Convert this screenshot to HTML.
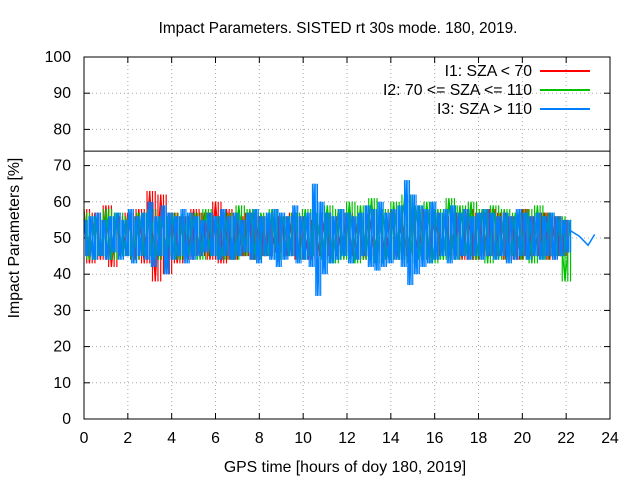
<!DOCTYPE html>
<html><head><meta charset="utf-8"><style>
body{margin:0;background:#fff}
svg{display:block;font-family:"Liberation Sans",sans-serif;font-size:15.8px}
</style></head><body>
<svg id="c" width="640" height="480">
<rect width="640" height="480" fill="#fff"/>
<text x="338" y="33" text-anchor="middle" style="font-size:15.3px">Impact Parameters. SISTED rt 30s mode. 180, 2019.</text>
<text x="345" y="472" text-anchor="middle">GPS time [hours of doy 180, 2019]</text>
<text transform="translate(19,238) rotate(-90)" text-anchor="middle">Impact Parameters [%]</text>
<g id="grid"></g><g id="series"></g>
<rect x="84" y="57" width="526" height="362" fill="none" stroke="#000"/>
<g id="legend"></g>
</svg>
<script>
const xTicks=[0,2,4,6,8,10,12,14,16,18,20,22,24];
const yTicks=[0,10,20,30,40,50,60,70,80,90,100];
const threshold=74;
const red=[58,43,57,44,59,42,56,45,57,44,58,43,63,38,62,40,57,43,56,44,58,45,57,44,60,43,58,44,56,45,57,44,56,45,55,46,56,45,57,44,56,44,55,45,57,45,56,46,57,45,56,44,58,45,57,44,58,44,56,45,57,45,58,44,57,45,56,45,57,44,58,44,57,45,58,45,57,44,56,44,58,45,56,45,57,44,56,45,55];
const green=[57,44,56,45,58,44,57,45,56,44,57,45,58,44,56,45,57,44,56,45,57,44,58,45,56,44,57,44,59,45,58,44,57,45,58,44,56,45,57,44,58,45,57,44,59,43,58,44,60,43,59,44,61,43,58,44,60,44,62,43,59,44,60,43,58,44,61,44,59,45,60,44,58,43,59,44,58,45,57,44,58,43,59,44,57,45,56,38,55];
const blue=[55,45,56,44,57,45,55,44,56,46,57,44,55,45,58,43,56,45,57,44,60,42,56,45,59,40,57,44,56,45,58,43,57,44,56,45,55,46,57,45,56,44,58,45,56,44,57,45,55,46,57,44,58,43,56,45,57,44,58,42,57,44,56,45,59,43,56,44,57,42,65,34,60,40,57,43,56,44,58,45,57,43,56,44,57,45,59,42,58,41,60,42,57,43,58,44,59,42,66,37,62,40,59,42,58,43,60,44,57,45,58,43,59,44,57,45,58,44,56,45,57,44,58,45,57,44,56,45,57,43,56,44,58,45,57,44,56,45,57,44,56,45,57,44,56,45,55,46,55];
const tailT=[22.2,22.6,23.0,23.3];
const tailV=[52,50.5,48,51];
const X=t=>84+t*(526/24), Y=v=>419-v*3.62;
const ns="http://www.w3.org/2000/svg";
function mk(tag,at,parent){const e=document.createElementNS(ns,tag);for(const k in at)e.setAttribute(k,at[k]);parent.appendChild(e);return e;}
const svg=document.getElementById('c'),grid=document.getElementById('grid'),ser=document.getElementById('series');
xTicks.forEach(t=>{
 if(t>0&&t<24){const g=mk('line',{x1:X(t),x2:X(t),y1:57,y2:419,stroke:'#aaa','stroke-dasharray':'1,3'},grid);
 
 }
 mk('line',{x1:X(t),x2:X(t),y1:419,y2:413,stroke:'#000'},grid);mk('line',{x1:X(t),x2:X(t),y1:57,y2:63,stroke:'#000'},grid);
 const l=mk('text',{x:X(t),y:443,'text-anchor':'middle'},svg);l.textContent=t;
 
 
});
yTicks.forEach(v=>{
 if(v>0&&v<100){const g=mk('line',{x1:84,x2:610,y1:Y(v),y2:Y(v),stroke:'#aaa','stroke-dasharray':'1,3'},grid);
 
 }
 mk('line',{x1:84,x2:90,y1:Y(v),y2:Y(v),stroke:'#000'},grid);mk('line',{x1:610,x2:604,y1:Y(v),y2:Y(v),stroke:'#000'},grid);
 const l=mk('text',{x:71,y:Y(v)+5,'text-anchor':'end'},svg);l.textContent=v;
 
 
});
const th=mk('line',{x1:84,x2:610,y1:Y(threshold),y2:Y(threshold),stroke:'#000'},ser);


function draw(vals,tEnd,color,name,extraT,extraV){
 const step=tEnd/(vals.length-1);
 let d='',z='';
 for(let i=0;i<vals.length;i++){
  const x=X(i*step);
  z+=(i?'L':'M')+x+','+Y(vals[i]);
  if(i>0){
   const xm=X((i-0.5)*step);
   d+='M'+xm+','+Y(vals[i-1])+'L'+xm+','+Y(vals[i]);
   d+='M'+x+','+Y(vals[i-1])+'L'+x+','+Y(vals[i]);
  }
 }
 const g=mk('g',{},ser);
 
 
 mk('path',{d:d,fill:'none',stroke:color,'stroke-width':1.2},g);
 mk('path',{d:z,fill:'none',stroke:color,'stroke-width':1.2},g);
 if(extraT){
  const pts=extraT.map((t,i)=>X(t)+','+Y(extraV[i])).join(' ');
  const tl=mk('polyline',{points:pts,fill:'none',stroke:color,'stroke-width':1.5},ser);
  
  
 }
}
draw(red,22,'#ff0000','series-i1');
draw(green,22.2,'#00c000','series-i2');
draw(blue,22.2,'#0080ff','series-i3',tailT,tailV);
const leg=document.getElementById('legend');
[['I1: SZA < 70','#ff0000',71],['I2: 70 <= SZA <= 110','#00c000',90],['I3: SZA > 110','#0080ff',109]].forEach(([t,c,y])=>{
 const tx=mk('text',{x:532,y:y+5,'text-anchor':'end'},leg);tx.textContent=t;
 
 
 mk('line',{x1:540,x2:590,y1:y,y2:y,stroke:c,'stroke-width':2},leg);
});
</script>
</body></html>
